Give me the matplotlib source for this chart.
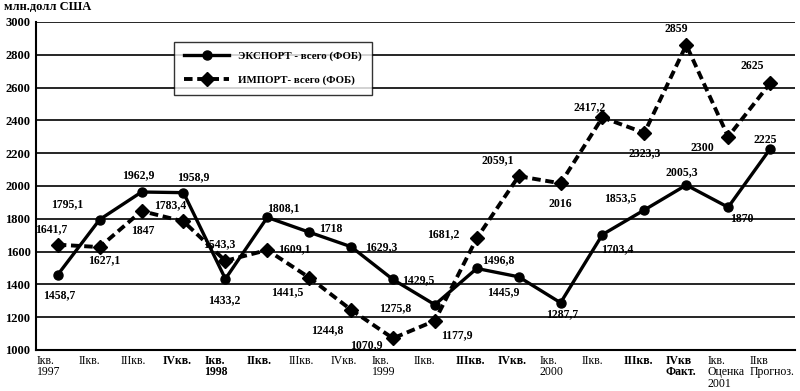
import matplotlib
matplotlib.use("Agg")
import matplotlib.pyplot as plt

quarters = ["Iкв.\n1997", "IIкв.", "IIIкв.", "IVкв.",
            "Iкв.\n1998", "IIкв.", "IIIкв.", "IVкв.",
            "Iкв.\n1999", "IIкв.", "IIIкв.", "IVкв.",
            "Iкв.\n2000", "IIкв.", "IIIкв.", "IVкв\nФакт.",
            "Iкв.\nОценка\n2001", "IIкв\nПрогноз."]
bold_ticks = [3, 4, 5, 10, 11, 14, 15]

export_vals = [1458.7, 1795.1, 1962.9, 1958.9, 1433.2, 1808.1, 1718, 1629.3, 1429.5,
               1275.8, 1496.8, 1445.9, 1287.7, 1703.4, 1853.5, 2005.3, 1870, 2225]
import_vals = [1641.7, 1627.1, 1847, 1783.4, 1543.3, 1609.1, 1441.5, 1244.8, 1070.9,
               1177.9, 1681.2, 2059.1, 2016, 2417.2, 2323.3, 2859, 2300, 2625]
export_lbls = ["1458,7", "1795,1", "1962,9", "1958,9", "1433,2", "1808,1", "1718", "1629,3",
               "1429,5", "1275,8", "1496,8", "1445,9", "1287,7", "1703,4", "1853,5",
               "2005,3", "1870", "2225"]
import_lbls = ["1641,7", "1627,1", "1847", "1783,4", "1543,3", "1609,1", "1441,5", "1244,8",
               "1070,9", "1177,9", "1681,2", "2059,1", "2016", "2417,2", "2323,3", "2859",
               "2300", "2625"]

# label offsets in pixels (dx, dy) from the point, screen coords (dy up)
exp_off = [(1, -20), (-32, 15), (-3, 17), (10, 16), (-1, -21), (16, 9), (22, 3), (30, 0),
           (25, -1), (-40, -3), (21, 8), (-15, -15), (2, -11), (15, -15), (-24, 12),
           (-4, 13), (14, -12), (-5, 9)]
imp_off = [(-7, 16), (5, -13), (1, -20), (-13, 16), (-6, 17), (27, 1), (-22, -15),
           (-24, -20), (-27, -7), (22, -14), (-34, 4), (-21, 16), (0, -21), (-13, 10),
           (0, -20), (-10, 16), (-26, -11), (-18, 17)]

plt.rcParams['font.family'] = ['Liberation Serif', 'DejaVu Serif']

fig = plt.figure(figsize=(8, 3.91), dpi=100)
ax = fig.add_axes([0.045, 0.105, 0.949, 0.839])

x = list(range(len(quarters)))
ax.plot(x, export_vals, color='black', lw=2.4, marker='o', ms=6.5, zorder=3,
        label="ЭКСПОРТ - всего (ФОБ)")
ax.plot(x, import_vals, color='black', lw=2.8, ls=(0, (2.2, 1.2)), marker='D', ms=7,
        zorder=3, label="ИМПОРТ- всего (ФОБ)")

ax.set_xlim(-0.52, 17.6)
ax.set_ylim(1000, 3000)
ax.set_yticks(range(1000, 3001, 200))
ax.grid(axis='y', color='black', lw=1.2)
ax.set_axisbelow(True)
for s in ['right', 'top']:
    ax.spines[s].set_visible(False)
ax.spines['left'].set_linewidth(1.5)
ax.spines['bottom'].set_linewidth(1.5)
ax.tick_params(axis='y', length=0, pad=4)
ax.set_xticks([])
for t in ax.get_yticklabels():
    t.set_fontweight('bold')
    t.set_fontsize(9)

px = 72 / 100.0
for i, (v, lab) in enumerate(zip(export_vals, export_lbls)):
    dx, dy = exp_off[i]
    ax.annotate(lab, (i, v), xytext=(dx * px, dy * px), textcoords='offset points',
                ha='center', va='center', fontsize=8.5, fontweight='bold')
for i, (v, lab) in enumerate(zip(import_vals, import_lbls)):
    dx, dy = imp_off[i]
    ax.annotate(lab, (i, v), xytext=(dx * px, dy * px), textcoords='offset points',
                ha='center', va='center', fontsize=8.5, fontweight='bold')

for i, q in enumerate(quarters):
    ax.text(i - 0.5, -0.016, q, transform=ax.get_xaxis_transform(), ha='left', va='top',
            fontsize=8.5, fontweight='bold' if i in bold_ticks else 'normal',
            linespacing=0.92)

fig.text(0.005, 0.998, "млн.долл США", ha='left', va='top', fontsize=9, fontweight='bold')

leg = ax.legend(loc='upper left', bbox_to_anchor=(0.182, 0.939), borderaxespad=0,
                frameon=True, fancybox=False, edgecolor='black', handlelength=4.2,
                borderpad=0.9, labelspacing=1.3, prop={'weight': 'bold', 'size': 7.8})
leg.get_frame().set_linewidth(1.0)

fig.savefig("out.png", dpi=100)
